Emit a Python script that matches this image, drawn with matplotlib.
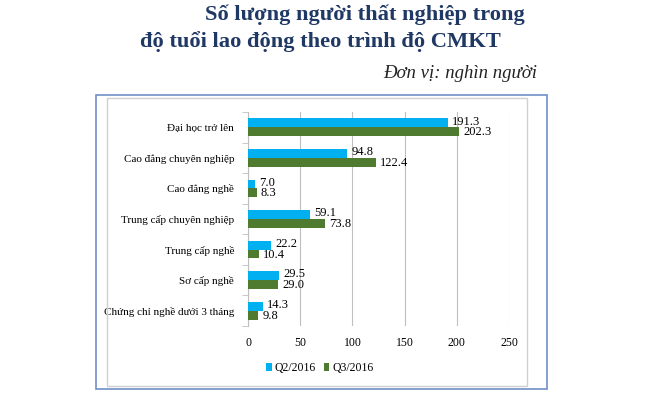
import matplotlib.pyplot as plt
from matplotlib.patches import Rectangle
import numpy as np

# dữ liệu
categories = ['Đại học trở lên', 'Cao đẳng chuyên nghiệp', 'Cao đẳng nghề',
              'Trung cấp chuyên nghiệp', 'Trung cấp nghề', 'Sơ cấp nghề',
              'Chứng chỉ nghề dưới 3 tháng']
q2 = [191.3, 94.8, 7.0, 59.1, 22.2, 29.5, 14.3]
q3 = [202.3, 122.4, 8.3, 73.8, 10.4, 29.0, 9.8]
series_names = ['Q2/2016', 'Q3/2016']
xticks = [0, 50, 100, 150, 200, 250]

W, H = 665, 396
fig = plt.figure(figsize=(W / 100, H / 100), dpi=100)
plt.rcParams['font.family'] = ['Liberation Serif', 'DejaVu Serif']

# khung ngoài
fig.patches.append(Rectangle((96 / W, 1 - 389 / H), 451 / W, 294 / H, transform=fig.transFigure,
                             fill=False, edgecolor='#6F8FC8', linewidth=1.2))
fig.patches.append(Rectangle((107 / W, 1 - 386 / H), 420 / W, 288 / H, transform=fig.transFigure,
                             fill=False, edgecolor='#D0D0D0', linewidth=1.0))

# tiêu đề
fig.text(205 / W, 1 - 15 / H, 'Số lượng người thất nghiệp trong', fontsize=16.2, fontweight='bold',
         color='#1F3864', ha='left', va='center')
fig.text(140 / W, 1 - 42 / H, 'độ tuổi lao động theo trình độ CMKT', fontsize=16.2, fontweight='bold',
         color='#1F3864', ha='left', va='center')
fig.text(537 / W, 1 - 73 / H, 'Đơn vị: nghìn người', fontsize=13.5, style='italic',
         color='#222222', ha='right', va='center')

ax = fig.add_axes([248 / W, 1 - 326 / H, 261 / W, 214 / H])
y = np.arange(len(categories))
h = 0.29
b1 = ax.barh(y - h / 2, q2, height=h, color='#00B0F0', label=series_names[0], zorder=3)
b2 = ax.barh(y + h / 2, q3, height=h, color='#4E7B2F', label=series_names[1], zorder=3)

for i in range(len(categories)):
    ax.text(q2[i] + 4, y[i] - h / 2 - 0.04, f'{q2[i]:.1f}', fontsize=9, va='center', ha='left', zorder=4)
    ax.text(q3[i] + 4, y[i] + h / 2 + 0.02, f'{q3[i]:.1f}', fontsize=9, va='center', ha='left', zorder=4)

ax.set_xlim(0, 250)
ax.set_ylim(len(categories) - 0.5, -0.5)
ax.set_xticks(xticks)
ax.set_xticklabels([str(t) for t in xticks], fontsize=8.5)
ax.set_yticks(y)
ax.set_yticklabels(categories, fontsize=8)
ax.tick_params(axis='y', length=0, pad=10)
ax.tick_params(axis='x', length=0, pad=8)
ax.set_yticks(np.arange(len(categories) + 1) - 0.5, minor=True)
ax.tick_params(axis='y', which='minor', length=4, color='#BFBFBF')
ax.grid(axis='x', color='#BFBFBF', linewidth=0.8, zorder=0)
for s in ['top', 'right', 'bottom']:
    ax.spines[s].set_visible(False)
ax.spines['left'].set_color('#BFBFBF')

fig.legend(handles=[b1, b2], labels=series_names, loc='center', bbox_to_anchor=(320 / W, 1 - 368 / H),
           ncol=2, frameon=False, fontsize=8.5, handlelength=0.45, handleheight=0.6,
           handletextpad=0.25, columnspacing=0.7)

plt.savefig('out.png', dpi=100)
